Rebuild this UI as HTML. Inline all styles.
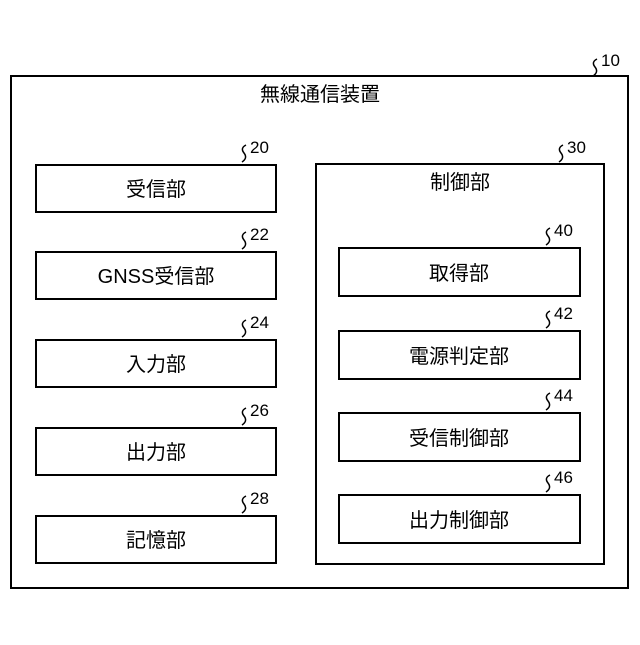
<!DOCTYPE html>
<html><head><meta charset="utf-8"><style>html,body{margin:0;padding:0;background:#fff}</style></head>
<body>
<svg width="640" height="640" xmlns="http://www.w3.org/2000/svg" font-family="'Liberation Sans','Noto Sans CJK JP',sans-serif">
<g fill="none" stroke="#000" stroke-width="2">
<rect x="11" y="76" width="617" height="512"/>
<rect x="36" y="165" width="240" height="47"/>
<rect x="36" y="252" width="240" height="47"/>
<rect x="36" y="340" width="240" height="47"/>
<rect x="36" y="428" width="240" height="47"/>
<rect x="36" y="516" width="240" height="47"/>
<rect x="316" y="164" width="288" height="400"/>
<rect x="339" y="248" width="241" height="48"/>
<rect x="339" y="331" width="241" height="48"/>
<rect x="339" y="413" width="241" height="48"/>
<rect x="339" y="495" width="241" height="48"/>
</g>
<g fill="none" stroke="#000" stroke-width="1.5">
<path d="M597 59 q-6 3 -2 8 q4 5 -2 9"/>
<path d="M246 145 q-6 3 -2 8 q4 5 -2 9"/>
<path d="M246 232 q-6 3 -2 8 q4 5 -2 9"/>
<path d="M246 320 q-6 3 -2 8 q4 5 -2 9"/>
<path d="M246 408 q-6 3 -2 8 q4 5 -2 9"/>
<path d="M246 496 q-6 3 -2 8 q4 5 -2 9"/>
<path d="M563 145 q-6 3 -2 8 q4 5 -2 9"/>
<path d="M550 228 q-6 3 -2 8 q4 5 -2 9"/>
<path d="M550 311 q-6 3 -2 8 q4 5 -2 9"/>
<path d="M550 393 q-6 3 -2 8 q4 5 -2 9"/>
<path d="M550 475 q-6 3 -2 8 q4 5 -2 9"/>
</g>
<g font-size="17" fill="#000">
<text x="601" y="66">10</text>
<text x="250" y="153">20</text>
<text x="250" y="240">22</text>
<text x="250" y="328">24</text>
<text x="250" y="416">26</text>
<text x="250" y="504">28</text>
<text x="567" y="153">30</text>
<text x="554" y="236">40</text>
<text x="554" y="319">42</text>
<text x="554" y="401">44</text>
<text x="554" y="483">46</text>
</g>
<g font-size="20" fill="#000" text-anchor="middle">
<text x="320" y="101">無線通信装置</text>
<text x="156" y="196">受信部</text>
<text x="156" y="283">GNSS受信部</text>
<text x="156" y="371">入力部</text>
<text x="156" y="459">出力部</text>
<text x="156" y="547">記憶部</text>
<text x="460" y="189">制御部</text>
<text x="459" y="280">取得部</text>
<text x="459" y="363">電源判定部</text>
<text x="459" y="445">受信制御部</text>
<text x="459" y="527">出力制御部</text>
</g>
</svg>
</body></html>
